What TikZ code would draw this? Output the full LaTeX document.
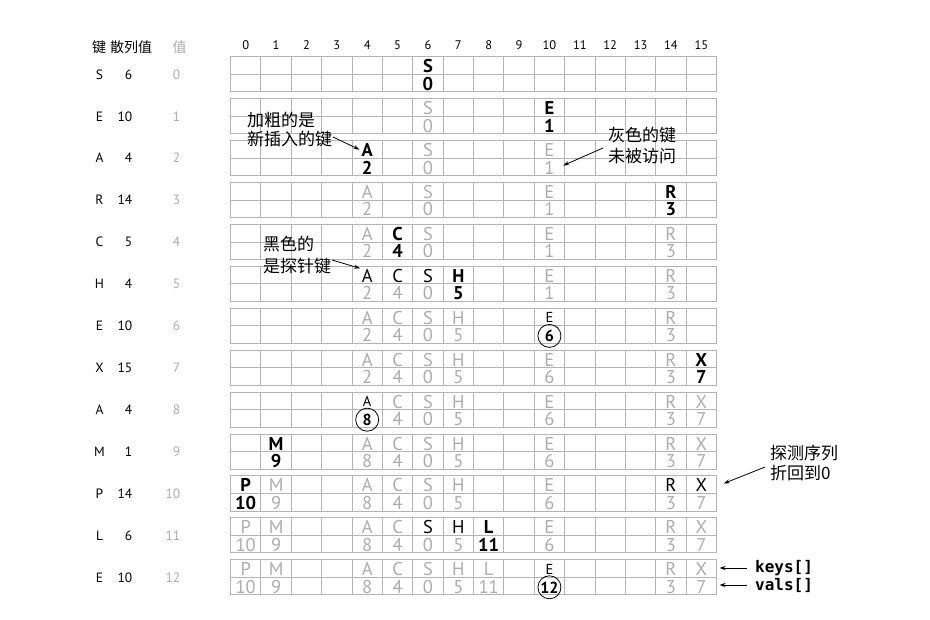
\documentclass[tikz,border=0pt]{standalone}
\usepackage{fontspec}
\setmainfont{PT Sans}
\newfontfamily\cjk{Noto Sans CJK SC}
\newfontfamily\monob{DejaVu Sans Mono}
\usetikzlibrary{arrows.meta}
\definecolor{gtext}{RGB}{172,172,172}
\definecolor{gline}{RGB}{180,180,180}
\begin{document}
\begin{tikzpicture}[x=1pt,y=-1pt,
  gridline/.style={draw=gline,line width=1pt},
  cellk/.style={inner sep=0.5pt,anchor=base,yshift=-16pt,font=\fontsize{18.5}{18.5}\selectfont},
  cellv/.style={inner sep=0.5pt,anchor=base,yshift=-33.3pt,font=\fontsize{18.5}{18.5}\selectfont},
  kb/.style={cellk,text=black,font=\fontsize{18.5}{18.5}\selectfont\bfseries},
  kn/.style={cellk,text=black},
  kg/.style={cellk,text=gtext},
  ks/.style={inner sep=0.5pt,anchor=base,yshift=-14.5pt,text=black,font=\fontsize{14.5}{14.5}\selectfont},
  vb/.style={cellv,text=black,font=\fontsize{18.5}{18.5}\selectfont\bfseries},
  vg/.style={cellv,text=gtext},
  vc/.style={circle,draw=black,line width=0.8pt,inner sep=0pt,minimum size=23pt,anchor=center,yshift=-27.5pt,text=black,font=\fontsize{16}{16}\selectfont\bfseries},
  lab/.style={inner sep=0.5pt,anchor=base,font=\fontsize{13.5}{13.5}\selectfont},
  colnum/.style={inner sep=0.5pt,font=\fontsize{12.5}{12.5}\selectfont},
  hdr/.style={inner sep=0.5pt,font=\cjk\fontsize{14}{14}\selectfont},
  note/.style={inner sep=0pt,anchor=west,align=left,font=\cjk\fontsize{16.5}{20.5}\selectfont},
  arr/.style={-{Stealth[length=6pt,width=4pt]},line width=0.8pt,black},
  mono/.style={inner sep=2pt,anchor=west,font=\monob\bfseries\fontsize{16}{16}\selectfont}
]
\useasboundingbox (0,0) rectangle (930,620);

\newcommand\hashrow[2]{%
  \pgfmathsetmacro\rtop{57+41.9*#1}%
  \draw[gridline] (230.5,\rtop) rectangle (716.5,\rtop+35);
  \draw[gridline] (230.5,\rtop+17.5) -- (716.5,\rtop+17.5);
  \foreach \i in {1,...,15} \draw[gridline] (230.5+30.375*\i,\rtop) -- ++(0,35);
  \foreach \c/\k/\v/\ks/\vs in {#2} {
    \node[k\ks] (k#1-\c) at ({245.69+30.375*\c},\rtop) {\k};
    \node[v\vs] (v#1-\c) at ({245.69+30.375*\c},\rtop) {\v};
  }%
}

% header
\node[hdr] (h1) at (99,47) {键};
\node[hdr] (h2) at (131,47) {散列值};
\node[hdr,text=gtext] (h3) at (179.6,47) {值};
\foreach \i in {0,...,15} \node[colnum] (c\i) at ({245.69+30.375*\i},45) {\i};

% left labels
\foreach \r/\k/\h in {0/S/6,1/E/10,2/A/4,3/R/14,4/C/5,5/H/4,6/E/10,7/X/15,8/A/4,9/M/1,10/P/14,11/L/6,12/E/10} {
  \pgfmathsetmacro\ly{74.5+41.9*\r+4.7}
  \node[lab] (lk\r) at (99.5,\ly) {\k};
  \node[lab,anchor=base east] (lh\r) at (133,\ly) {\h};
  \node[lab,anchor=base east,text=gtext] (lv\r) at (181,\ly) {\r};
}

\hashrow{0}{6/S/0/b/b}
\hashrow{1}{6/S/0/g/g, 10/E/1/b/b}
\hashrow{2}{4/A/2/b/b, 6/S/0/g/g, 10/E/1/g/g}
\hashrow{3}{4/A/2/g/g, 6/S/0/g/g, 10/E/1/g/g, 14/R/3/b/b}
\hashrow{4}{4/A/2/g/g, 5/C/4/b/b, 6/S/0/g/g, 10/E/1/g/g, 14/R/3/g/g}
\hashrow{5}{4/A/2/n/g, 5/C/4/n/g, 6/S/0/n/g, 7/H/5/b/b, 10/E/1/g/g, 14/R/3/g/g}
\hashrow{6}{4/A/2/g/g, 5/C/4/g/g, 6/S/0/g/g, 7/H/5/g/g, 10/E/6/s/c, 14/R/3/g/g}
\hashrow{7}{4/A/2/g/g, 5/C/4/g/g, 6/S/0/g/g, 7/H/5/g/g, 10/E/6/g/g, 14/R/3/g/g, 15/X/7/b/b}
\hashrow{8}{4/A/8/s/c, 5/C/4/g/g, 6/S/0/g/g, 7/H/5/g/g, 10/E/6/g/g, 14/R/3/g/g, 15/X/7/g/g}
\hashrow{9}{1/M/9/b/b, 4/A/8/g/g, 5/C/4/g/g, 6/S/0/g/g, 7/H/5/g/g, 10/E/6/g/g, 14/R/3/g/g, 15/X/7/g/g}
\hashrow{10}{0/P/10/b/b, 1/M/9/g/g, 4/A/8/g/g, 5/C/4/g/g, 6/S/0/g/g, 7/H/5/g/g, 10/E/6/g/g, 14/R/3/n/g, 15/X/7/n/g}
\hashrow{11}{0/P/10/g/g, 1/M/9/g/g, 4/A/8/g/g, 5/C/4/g/g, 6/S/0/n/g, 7/H/5/n/g, 8/L/11/b/b, 10/E/6/g/g, 14/R/3/g/g, 15/X/7/g/g}
\hashrow{12}{0/P/10/g/g, 1/M/9/g/g, 4/A/8/g/g, 5/C/4/g/g, 6/S/0/g/g, 7/H/5/g/g, 8/L/11/g/g, 10/E/12/s/c, 14/R/3/g/g, 15/X/7/g/g}

% annotations
\node[note,font=\cjk\fontsize{17}{19.5}\selectfont] (n1) at (247,129.5) {加粗的是\\新插入的键};
\node[note,font=\cjk\fontsize{17}{21}\selectfont] (n2) at (608,145.5) {灰色的键\\未被访问};
\node[note,font=\cjk\fontsize{17}{22}\selectfont] (n3) at (263,255) {黑色的\\是探针键};
\node[note,font=\cjk\fontsize{17}{20}\selectfont] (n4) at (770,463) {探测序列\\折回到0};

\coordinate (s1) at (333,137);
\coordinate (s2) at (603,148);
\coordinate (s3) at (332,260);
\coordinate (s4) at (765,467);
\draw[arr,shorten >=1.5pt] (s1) -- (k2-4.west);
\draw[arr] (s2) -- ([xshift=8pt,yshift=2pt]v2-10.east);
\draw[arr,shorten >=1pt] (s3) -- (k5-4.north west);
\draw[arr] (s4) -- ([xshift=16pt,yshift=2pt]k10-15.east);

\node[mono] (keys) at (753,568) {keys[]};
\node[mono] (vals) at (753,585) {vals[]};
\coordinate (kend) at (719.5,568);
\coordinate (vend) at (719.5,585);
\draw[arr] ([xshift=-6pt]keys.west) -- (kend);
\draw[arr] ([xshift=-6pt]vals.west) -- (vend);
\end{tikzpicture}
\end{document}
